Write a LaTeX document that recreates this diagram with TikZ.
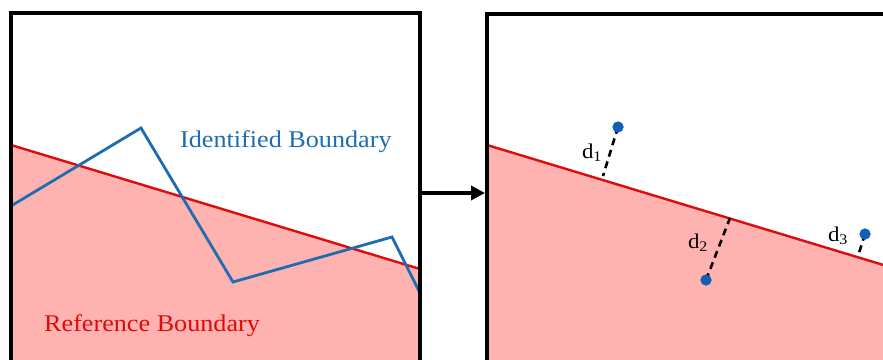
\documentclass[tikz,border=0pt]{standalone}
\usepackage{fontspec}
\setmainfont{Liberation Serif}
\newfontfamily\labfont[FakeStretch=1.09]{Liberation Serif}
\usetikzlibrary{arrows.meta}
\definecolor{refred}{HTML}{E00A0A}
\definecolor{refpink}{HTML}{FFB3B0}
\definecolor{idblue}{HTML}{1F6DB0}
\definecolor{dotblue}{HTML}{1060B5}
\tikzset{
  frame/.style={draw=black, line width=4.5pt},
  refline/.style={draw=refred, line width=2.4pt},
  idline/.style={draw=idblue, line width=2.8pt, line join=miter},
  distline/.style={draw=black, line width=2.6pt, dash pattern=on 7pt off 5pt},
  pt/.style={circle, fill=dotblue, inner sep=0pt, minimum size=11pt},
  dlab/.style={font=\labfont\fontsize{21}{23}\selectfont, text=black, inner sep=0pt},
  biglab/.style={font=\labfont\fontsize{24}{27}\selectfont, inner sep=0pt},
}
\begin{document}
\begin{tikzpicture}[x=1pt,y=-1pt]
\clip (0,0) rectangle (883,359);
\fill[white] (0,0) rectangle (883,359);
% left panel
\fill[refpink] (11,145) -- (420,269) -- (420,380) -- (11,380) -- cycle;
\draw[refline] (11,145) coordinate (rl1) -- (420,269) coordinate (rl2);
\draw[idline] (11,206) -- (141,128) -- (233,282) -- (392,237) -- (421,295);
\node[biglab, text=idblue, anchor=base west] (idlab) at (180,147) {Identified Boundary};
\node[biglab, text=refred, anchor=base west] (reflab) at (44,331) {Reference Boundary};
\draw[frame] (11,380) -- (11,13) -- (420,13) -- (420,380);
% right panel
\fill[refpink] (487,145) -- (900,270) -- (900,380) -- (487,380) -- cycle;
\draw[refline] (487,145) -- (900,270);
\coordinate (f1) at (603,176);
\coordinate (f2) at (730,218);
\coordinate (f3) at (858,256);
\node[pt] (p1) at (618,127) {};
\node[pt] (p2) at (706,280) {};
\node[pt] (p3) at (865,234) {};
\draw[distline] (p1.center) -- (f1);
\draw[distline] (p2.center) -- (f2);
\draw[distline] (p3.center) -- (f3);
\node[pt] at (618,127) {};
\node[pt] at (706,280) {};
\node[pt] at (865,234) {};
\node[dlab] (d1) at (592,153) {d\textsubscript{1}};
\node[dlab] (d2) at (698,243) {d\textsubscript{2}};
\node[dlab] (d3) at (838,236) {d\textsubscript{3}};
\draw[frame] (487,380) -- (487,14) -- (900,14);
% arrow
\coordinate (a0) at (422,193);
\coordinate (a1) at (485,193);
\draw[line width=4pt, -{Triangle[length=14pt,width=14pt]}] (a0) -- (a1);
\end{tikzpicture}
\end{document}
